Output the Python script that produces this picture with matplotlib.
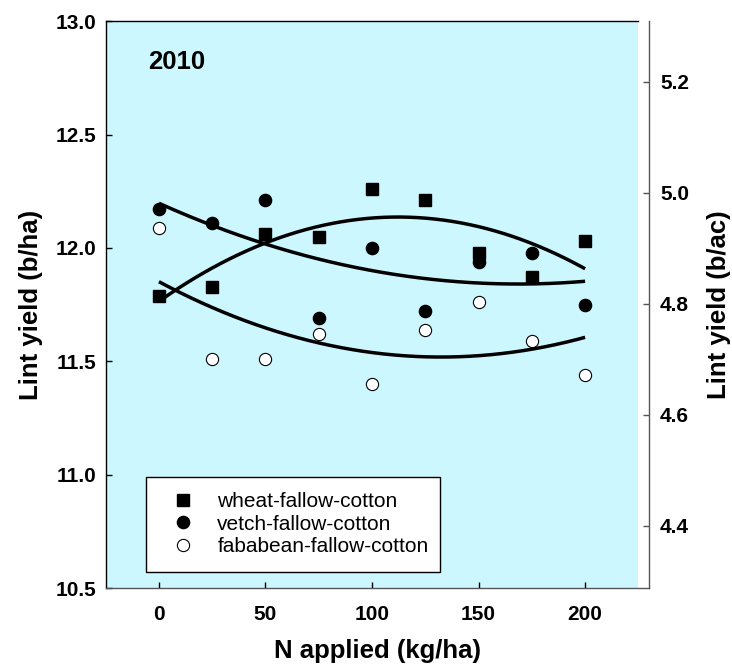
import numpy as np
import matplotlib
matplotlib.use("Agg")
import matplotlib.pyplot as plt

# ---- data ----
n_applied = [0, 25, 50, 75, 100, 125, 150, 175, 200]
wheat = [11.79, 11.83, 12.06, 12.05, 12.26, 12.21, 11.98, 11.87, 12.03]
vetch = [12.17, 12.11, 12.21, 11.69, 12.00, 11.72, 11.94, 11.98, 11.75]
fababean = [12.09, 11.51, 11.51, 11.62, 11.40, 11.64, 11.76, 11.59, 11.44]
series_labels = ["wheat-fallow-cotton", "vetch-fallow-cotton", "fababean-fallow-cotton"]
x_ticks = [0, 50, 100, 150, 200]
y_ticks = [10.5, 11.0, 11.5, 12.0, 12.5, 13.0]
y2_ticks = [4.4, 4.6, 4.8, 5.0, 5.2]
year_label = "2010"
conv = 0.4084  # b/ha -> b/ac axis factor

FONT = "Liberation Sans"
plt.rcParams["font.family"] = [FONT, "DejaVu Sans"]

W, H = 732, 665
fig = plt.figure(figsize=(W / 100, H / 100), dpi=100)
ax = fig.add_axes([105.7 / W, 1 - 588 / H, (649 - 105.7) / W, (588 - 21.3) / H])
ax.set_facecolor("white")
ax.set_xlim(-25, 230)
ax.set_ylim(10.5, 13.0)
ax.axvspan(-25, 225, facecolor="#ccf7fe", edgecolor="none", zorder=0)

xs = np.array(n_applied, dtype=float)
xfit = np.linspace(min(n_applied), max(n_applied), 200)
for ys in (wheat, vetch, fababean):
    c = np.polyfit(xs, ys, 2)
    ax.plot(xfit, np.polyval(c, xfit), color="black", lw=2.5, zorder=3, solid_capstyle="butt")

ax.plot(n_applied, wheat, ls="none", marker="s", ms=8.2, color="black", label=series_labels[0], zorder=4)
ax.plot(n_applied, vetch, ls="none", marker="o", ms=8.8, color="black", label=series_labels[1], zorder=4)
ax.plot(n_applied, fababean, ls="none", marker="o", ms=8.8, markerfacecolor="white",
        markeredgecolor="black", markeredgewidth=0.8, label=series_labels[2], zorder=4)

ax.spines["top"].set_bounds(-25, 225)
ax.spines["top"].set_color("black")
ax.spines["left"].set_color("black")
ax.spines["bottom"].set_color("#555555")
ax.spines["right"].set_visible(False)
for s in ax.spines.values():
    s.set_linewidth(1.0)

ax.set_xticks(x_ticks)
ax.set_yticks(y_ticks)
ax.set_yticklabels([f"{v:.1f}" for v in y_ticks])
ax.tick_params(axis="x", direction="in", length=4, width=1, pad=12, labelsize=15, top=False)
ax.tick_params(axis="y", direction="in", length=4, width=1, pad=7, labelsize=15)
for lab in ax.get_xticklabels() + ax.get_yticklabels():
    lab.set_fontweight("bold")

ax.set_xlabel("N applied (kg/ha)", fontsize=18.5, fontweight="bold", labelpad=11)
ax.set_ylabel("Lint yield (b/ha)", fontsize=18.5, fontweight="bold", labelpad=9)

fig.text(148 / W, 1 - 69.3 / H, year_label, fontsize=18.5, fontweight="bold",
         ha="left", va="baseline")

ax2 = ax.twinx()
ax2.set_ylim(10.5 * conv, 13.0 * conv)
ax2.set_yticks(y2_ticks)
ax2.set_yticklabels([f"{v:.1f}" for v in y2_ticks])
ax2.tick_params(axis="y", direction="in", length=4, width=1, pad=8, labelsize=15, color="#555555")
for lab in ax2.get_yticklabels():
    lab.set_fontweight("bold")
for k in ("top", "bottom", "left"):
    ax2.spines[k].set_visible(False)
ax2.spines["right"].set_color("#555555")
ax2.spines["right"].set_linewidth(1.0)
ax2.set_ylabel("Lint yield (b/ac)", fontsize=18.5, fontweight="bold", labelpad=13)

leg = ax.legend(loc="upper left",
                bbox_to_anchor=((146 - 105.7) / 543.3, (588 - 477) / 566.7, 294 / 543.3, 0.0),
                mode="expand", frameon=True, fancybox=False, fontsize=15, framealpha=1.0,
                handlelength=2.15, handletextpad=0.55, labelspacing=0.18, borderpad=0.72,
                borderaxespad=0.0)
leg.get_frame().set_edgecolor("black")
leg.get_frame().set_linewidth(1.0)
leg.set_zorder(5)

fig.savefig("out.png", dpi=100)
